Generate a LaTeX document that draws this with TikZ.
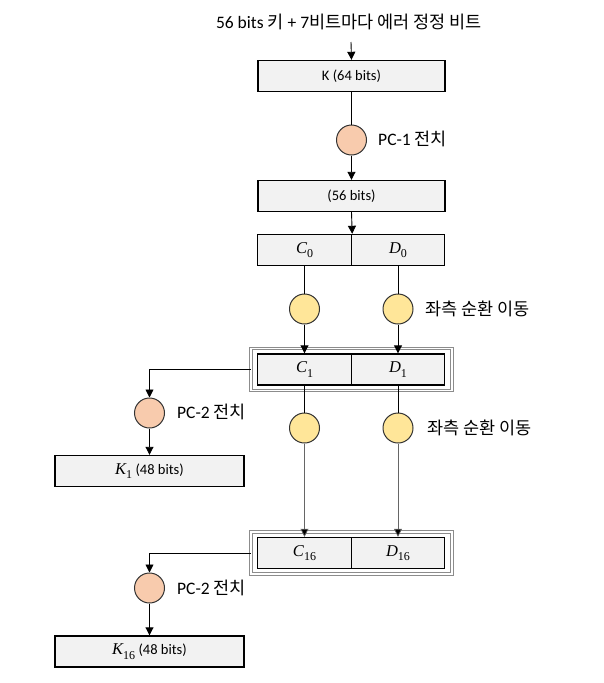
\documentclass[tikz,border=0pt]{standalone}
\usepackage{fontspec}
\setmainfont{Carlito}
\newfontfamily\kr{Noto Sans CJK KR}
\newfontfamily\mathserif{Liberation Serif}
\newcommand{\mv}[2]{{\mathserif\fontsize{16.5}{18}\selectfont\itshape #1}\raisebox{-0.3em}{\mathserif\fontsize{12}{13}\selectfont #2}}
\usetikzlibrary{arrows.meta}
\definecolor{boxfill}{HTML}{F2F2F2}
\definecolor{yel}{HTML}{FFE699}
\definecolor{org}{HTML}{F8CBAD}
\begin{document}
\begin{tikzpicture}[x=1pt,y=-1pt,
  box/.style={draw=black,line width=1.4pt,fill=boxfill,minimum height=31pt,inner sep=0pt,font=\fontsize{14.5}{17}\selectfont},
  yc/.style={circle,draw=black!80,line width=1pt,fill=yel,minimum size=30pt,inner sep=0pt},
  oc/.style={circle,draw=black!80,line width=1pt,fill=org,minimum size=30pt,inner sep=0pt},
  frame/.style={draw=black!45,double=white,double distance=1.2pt,line width=1pt,inner sep=0pt},
  lbl/.style={anchor=west,inner sep=0pt,font=\fontsize{17.5}{20}\selectfont},
  ln/.style={line width=0.9pt},
  arr/.style={line width=0.9pt,-{Triangle[length=8pt,width=8pt]}},
  farr/.style={line width=0.7pt,draw=black!60,-{Triangle[length=8pt,width=8pt,fill=black]}}]
\useasboundingbox (0,0) rectangle (604,683);

\node[inner sep=0pt,font=\fontsize{17.5}{20}\selectfont] (top) at (349,22) {56 bits {\kr 키} + 7{\kr 비트마다 에러 정정 비트}};
\coordinate (tin) at (351,42);

\node[box,minimum width=187pt] (K) at (351.5,76) {K (64 bits)};
\node[oc] (pc1) at (351.5,140) {};
\node[lbl] (pc1l) at (378,139) {PC-1 {\kr 전치}};
\node[box,minimum width=187pt] (b56) at (351.5,196) {(56 bits)};

\node[box,minimum width=94pt] (C0) at (304.5,250) {\mv{C}{0}};
\node[box,minimum width=93pt] (D0) at (398,250) {\mv{D}{0}};

\node[yc] (y1) at (304.5,309) {};
\node[yc] (y2) at (398,309) {};
\node[lbl] (sh1) at (425,309) {\kr 좌측 순환 이동};

\node[frame,minimum width=201pt,minimum height=42pt] (F1) at (351.5,369.5) {};
\node[box,minimum width=94pt] (C1) at (304.5,369.5) {\mv{C}{1}};
\node[box,minimum width=93pt] (D1) at (398,369.5) {\mv{D}{1}};

\node[oc] (pc2a) at (149.5,413) {};
\node[lbl] (pc2al) at (177,412) {PC-2 {\kr 전치}};
\node[box,minimum width=189pt] (K1) at (149.5,471) {\mv{K}{1} (48 bits)};

\node[yc] (y3) at (304.5,428) {};
\node[yc] (y4) at (398,428) {};
\node[lbl] (sh2) at (427,428) {\kr 좌측 순환 이동};

\node[frame,minimum width=201pt,minimum height=42pt] (F16) at (351.5,553) {};
\node[box,minimum width=94pt] (C16) at (304.5,553) {\mv{C}{16}};
\node[box,minimum width=93pt] (D16) at (398,553) {\mv{D}{16}};

\node[oc] (pc2b) at (149.5,588) {};
\node[lbl] (pc2bl) at (177,588) {PC-2 {\kr 전치}};
\node[box,minimum width=189pt] (K16) at (149.5,651.5) {\mv{K}{16} (48 bits)};

% connectors
\draw[arr] (tin) -- (K.north);
\draw[ln] (K.south) -- (pc1.north);
\draw[arr] (pc1.south) -- (b56.north);
\draw[arr] (b56.south) -- (C0.north east);
\draw[ln] (C0.south) -- (y1.north);
\draw[ln] (D0.south) -- (y2.north);
\draw[arr] (y1.south) -- (C1.north);
\draw[arr] (y2.south) -- (D1.north);
\draw[arr] (F1.west) -| (pc2a.north);
\draw[arr] (pc2a.south) -- (K1.north);
\draw[ln] (C1.south) -- (y3.north);
\draw[ln] (D1.south) -- (y4.north);
\draw[farr] (y3.south) -- (C16.north);
\draw[farr] (y4.south) -- (D16.north);
\draw[arr] (F16.west) -| (pc2b.north);
\draw[arr] (pc2b.south) -- (K16.north);
\end{tikzpicture}
\end{document}
